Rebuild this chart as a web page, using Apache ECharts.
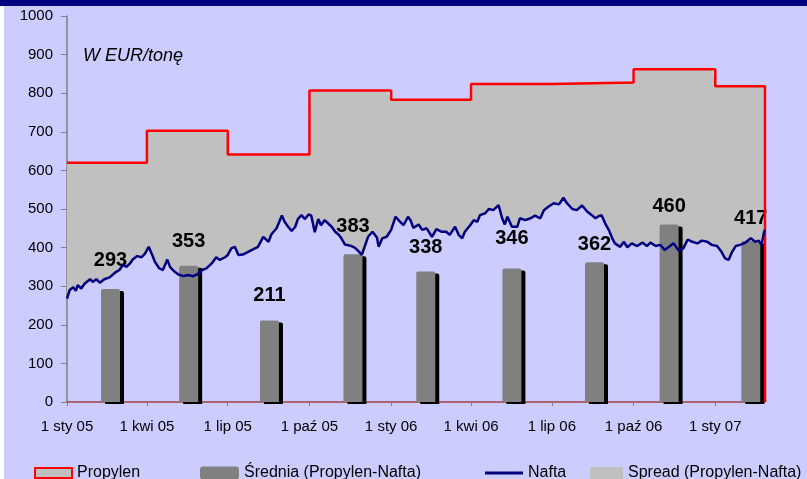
<!DOCTYPE html>
<html><head><meta charset="utf-8">
<script src="https://cdn.jsdelivr.net/npm/echarts@6/dist/echarts.min.js"></script>
<style>html,body{margin:0;padding:0;background:#CCCCFF}#c{width:807px;height:479px}</style>
</head><body><div id="c"></div>
<script>
// ---- data ----
const naftaDates = [
'2005-01-01','2005-01-04','2005-01-08','2005-01-11','2005-01-13','2005-01-17','2005-01-21','2005-01-27','2005-01-30',
'2005-02-03','2005-02-07','2005-02-12','2005-02-18','2005-02-24',
'2005-03-01','2005-03-05','2005-03-09','2005-03-13','2005-03-16','2005-03-21','2005-03-26','2005-03-30',
'2005-04-03','2005-04-07','2005-04-10','2005-04-15','2005-04-19','2005-04-24','2005-04-27',
'2005-05-01','2005-05-06','2005-05-12','2005-05-17','2005-05-23','2005-05-28',
'2005-06-02','2005-06-07','2005-06-13','2005-06-18','2005-06-22','2005-06-28',
'2005-07-01','2005-07-05','2005-07-09','2005-07-13','2005-07-18','2005-07-24','2005-07-30',
'2005-08-04','2005-08-10','2005-08-16','2005-08-19','2005-08-25','2005-08-31',
'2005-09-03','2005-09-07','2005-09-11','2005-09-15','2005-09-18','2005-09-22','2005-09-26','2005-09-30',
'2005-10-03','2005-10-07','2005-10-11','2005-10-14','2005-10-18','2005-10-22','2005-10-26','2005-10-30',
'2005-11-03','2005-11-06','2005-11-10','2005-11-16','2005-11-21','2005-11-26','2005-11-29',
'2005-12-03','2005-12-06','2005-12-11','2005-12-16','2005-12-18','2005-12-22','2005-12-27',
'2006-01-01','2006-01-06','2006-01-11','2006-01-15','2006-01-20','2006-01-23','2006-01-26',
'2006-02-01','2006-02-05','2006-02-10','2006-02-16','2006-02-21','2006-02-27',
'2006-03-04','2006-03-08','2006-03-14','2006-03-18','2006-03-22','2006-03-25','2006-03-31',
'2006-04-04','2006-04-08','2006-04-11','2006-04-17','2006-04-21','2006-04-26',
'2006-05-02','2006-05-06','2006-05-09','2006-05-12','2006-05-17','2006-05-23','2006-05-26',
'2006-06-01','2006-06-07','2006-06-12','2006-06-18','2006-06-22','2006-06-27',
'2006-07-03','2006-07-09','2006-07-14','2006-07-18','2006-07-24','2006-07-29',
'2006-08-04','2006-08-10','2006-08-15','2006-08-19','2006-08-23','2006-08-26','2006-08-30',
'2006-09-03','2006-09-07','2006-09-10','2006-09-16','2006-09-20','2006-09-24','2006-09-29',
'2006-10-05','2006-10-11','2006-10-16','2006-10-20','2006-10-26','2006-10-31',
'2006-11-05','2006-11-10','2006-11-15','2006-11-21','2006-11-26',
'2006-12-01','2006-12-06','2006-12-12','2006-12-17','2006-12-23','2006-12-28',
'2007-01-03','2007-01-08','2007-01-12','2007-01-16','2007-01-20','2007-01-24','2007-01-29',
'2007-02-04','2007-02-10','2007-02-15','2007-02-19','2007-02-22','2007-02-25','2007-02-26'
];
const naftaValues = [
268,290,297,288,303,294,307,318,311,
318,309,318,323,335,
342,355,350,359,369,378,375,385,
402,381,363,346,342,369,350,
340,331,326,329,326,331,
342,346,359,375,368,375,
381,398,402,381,382,389,396,
402,428,415,434,450,483,
467,454,443,454,474,484,474,486,
483,440,474,458,471,463,454,441,
433,424,408,405,400,389,381,
408,428,441,426,402,424,428,
446,480,467,458,480,470,451,
460,446,450,428,448,441,
441,433,454,433,424,441,458,
471,467,484,489,500,497,
510,476,460,480,454,454,476,
471,476,483,476,497,506,
515,512,529,515,500,497,
509,493,484,476,482,484,463,
446,424,411,402,415,401,411,
404,413,404,413,404,407,
394,402,411,392,398,
421,415,411,418,415,407,
404,389,372,368,389,404,407,
413,424,415,418,407,441,446
];
const propylenDates = ['2005-01-01','2005-04-01','2005-07-01','2005-10-01','2006-01-01','2006-04-01','2006-07-01','2006-10-01','2007-01-01'];
const propylenValues = [620,703,641,807,783,824,828,862,818];
const startDate = '2005-01-01';
const endDate = '2007-02-26';
const barDates = ['2005-02-19','2005-05-18','2005-08-17','2005-11-19','2006-02-09','2006-05-17','2006-08-18','2006-11-10','2007-02-10'];
const barValues = [293,353,211,383,338,346,362,460,417];
const monthNames = ['sty','lut','mar','kwi','maj','cze','lip','sie','wrz','paź','lis','gru'];

// ---- styling config (not data) ----
const labelDistance = [18,14,15,18,14,20,8,8,13];
const FONT = 'Arial, "Liberation Sans", sans-serif';
const DAY = 86400000;

function ts(s) { const p = s.split('-').map(Number); return new Date(p[0], p[1] - 1, p[2]).getTime(); }
function propylenAt(d) {
  let v = propylenValues[0];
  for (let i = 0; i < propylenDates.length; i++) if (propylenDates[i] <= d) v = propylenValues[i];
  return v;
}

const naftaData = naftaDates.map((d, i) => [ts(d), naftaValues[i]]);
const spreadData = naftaDates.map((d, i) => [ts(d), propylenAt(d) - naftaValues[i]]);
const propylenData = propylenDates.map((d, i) => [ts(d), propylenValues[i]]);
propylenData.push([ts(endDate), propylenValues[propylenValues.length - 1]]);
propylenData.push([ts(endDate), 0]);
const barData = barDates.map((d, i) => ({ value: [ts(d), barValues[i]], label: { distance: labelDistance[i] } }));

const legendText = { fontSize: 16, color: '#000', fontFamily: FONT, lineHeight: 18 };

const chart = echarts.init(document.getElementById('c'), null, { renderer: 'canvas' });
chart.setOption({
  animation: false,
  backgroundColor: '#CCCCFF',
  textStyle: { fontFamily: FONT },
  graphic: [
    { type: 'rect', shape: { x: 0, y: 0, width: 807, height: 6 }, style: { fill: '#000080' }, z: 100 },
    { type: 'rect', shape: { x: 0, y: 6, width: 4, height: 473 }, style: { fill: '#FFFFFF' }, z: 100 }
  ],
  title: {
    text: 'W EUR/tonę', left: 83, top: 47, padding: 0,
    textStyle: { fontStyle: 'italic', fontWeight: 'normal', fontSize: 18, color: '#000', fontFamily: FONT }
  },
  grid: { left: 67, right: 42, top: 16, bottom: 77, containLabel: false, outerBoundsMode: 'none' },
  xAxis: [{
    type: 'time',
    min: ts(startDate), max: ts(endDate),
    splitNumber: 8, minInterval: 95 * DAY, maxInterval: 110 * DAY,
    axisLine: { show: true, lineStyle: { color: '#A04040', width: 1.5 } },
    axisTick: { show: true, length: 4, lineStyle: { color: '#808080' } },
    splitLine: { show: false },
    axisLabel: {
      fontSize: 15, color: '#000', margin: 17, fontFamily: FONT, showMaxLabel: false,
      formatter: function (v) {
        const d = new Date(v);
        return '1 ' + monthNames[d.getMonth()] + ' ' + String(d.getFullYear()).slice(2);
      }
    }
  }, {
    type: 'value', show: false,
    min: ts(startDate), max: ts(endDate),
    splitLine: { show: false }
  }],
  yAxis: {
    type: 'value', min: 0, max: 1000, interval: 100,
    axisLine: { show: true, lineStyle: { color: '#808080', width: 1.5 } },
    axisTick: { show: true, length: 6, lineStyle: { color: '#808080' } },
    splitLine: { show: false },
    axisLabel: { fontSize: 15, color: '#000', margin: 14, fontFamily: FONT, formatter: function (v) { return String(v); } }
  },
  legend: [
    { left: 34, top: 464, padding: 0, itemWidth: 37, itemHeight: 10, textStyle: legendText,
      data: [{ name: 'Propylen', icon: 'rect', itemStyle: { color: '#C0C0C0', borderColor: '#FF0000', borderWidth: 2 } }] },
    { left: 200, top: 464, padding: 0, itemWidth: 39, itemHeight: 13, textStyle: legendText,
      data: [{ name: 'Średnia (Propylen-Nafta)', icon: 'roundRect', itemStyle: { color: '#808080', shadowColor: 'rgba(0,0,0,0)', shadowOffsetX: 0, shadowOffsetY: 0 } }] },
    { left: 485, top: 464, padding: 0, itemWidth: 38, itemHeight: 3, textStyle: legendText,
      data: [{ name: 'Nafta', icon: 'rect', itemStyle: { color: '#000080' } }] },
    { left: 590, top: 464, padding: 0, itemWidth: 33, itemHeight: 12, textStyle: legendText,
      data: [{ name: 'Spread (Propylen-Nafta)', icon: 'rect', itemStyle: { color: '#C0C0C0' } }] }
  ],
  series: [
    {
      name: 'Nafta', type: 'line', stack: 'sp', data: naftaData, z: 5,
      showSymbol: false, symbol: 'none', color: '#000080',
      lineStyle: { color: '#000080', width: 2.5 }
    },
    {
      name: 'Spread (Propylen-Nafta)', type: 'line', stack: 'sp', data: spreadData, z: 1,
      showSymbol: false, symbol: 'none', color: '#C0C0C0', silent: true,
      lineStyle: { width: 0, opacity: 0 },
      areaStyle: { color: '#C0C0C0', opacity: 1 }
    },
    {
      name: 'Średnia (Propylen-Nafta)', type: 'bar', xAxisIndex: 1, data: barData, z: 3, barWidth: 19,
      itemStyle: { color: '#808080', borderRadius: [2, 2, 0, 0], shadowColor: '#000', shadowOffsetX: 4, shadowOffsetY: 2, shadowBlur: 0 },
      label: { show: true, position: 'top', fontSize: 20, fontWeight: 'bold', color: '#000', fontFamily: FONT, lineHeight: 20 }
    },
    {
      name: 'Propylen', type: 'line', step: 'end', data: propylenData, z: 4,
      showSymbol: false, symbol: 'none', color: '#FF0000',
      lineStyle: { color: '#FF0000', width: 2.5 }
    }
  ]
});
</script>
</body></html>
